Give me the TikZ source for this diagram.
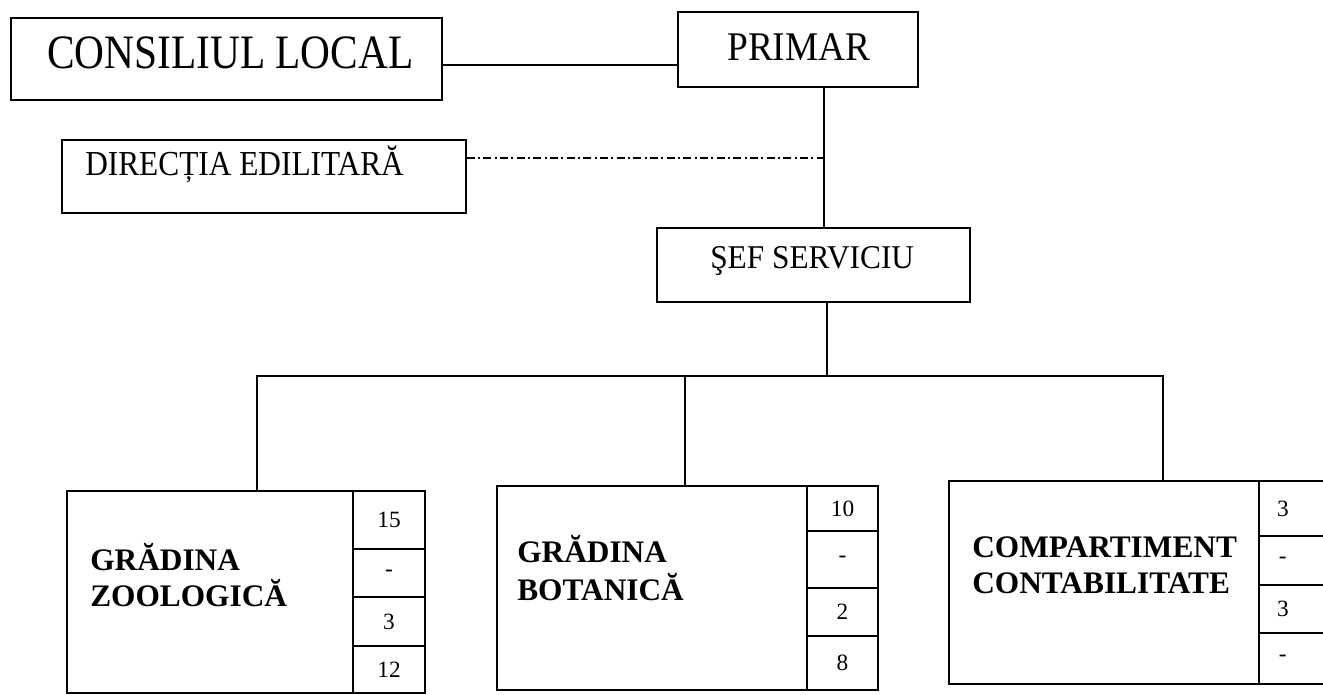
\documentclass[tikz,border=0pt]{standalone}
\usepackage{graphicx}
\usepackage{fontspec}
\setmainfont{Liberation Serif}
\newcommand{\tallr}[2]{\scalebox{1}[#1]{#2}}
\begin{document}
\begin{tikzpicture}[x=0.75pt,y=-0.75pt,
  box/.style={draw, line width=1.15pt, inner sep=0pt, rectangle},
  cell/.style={draw, line width=1.15pt, inner sep=0pt, rectangle, font=\fontsize{17.5}{20}\selectfont},
  conn/.style={line width=1.1pt},
  dashdot/.style={line width=1.1pt, dash pattern=on 6pt off 2.5pt on 1.5pt off 2.5pt},
  lbl/.style={inner sep=0pt, anchor=base west},
  blbl/.style={inner sep=0pt, anchor=base west, font=\fontsize{23.5}{27}\bfseries\selectfont}]
\useasboundingbox (0,0) rectangle (1323,694);
\fill[white] (0,0) rectangle (1323,694);
% top boxes
\node[box, minimum width=431*0.75pt, minimum height=82*0.75pt] (cl) at (226.5,59) {};
\node[lbl, font=\fontsize{31}{36}\selectfont] (cltxt) at (47,68) {\tallr{1.16}{CONSILIUL LOCAL}};
\node[box, minimum width=240*0.75pt, minimum height=75*0.75pt] (pr) at (798,49.5) {};
\node[lbl, font=\fontsize{28}{32}\selectfont] (prtxt) at (727,60) {\tallr{1.09}{PRIMAR}};
\node[box, minimum width=404*0.75pt, minimum height=73*0.75pt] (de) at (264,176.5) {};
\node[lbl, font=\fontsize{23.5}{27}\selectfont] (detxt) at (85,175) {\tallr{1.12}{DIRECȚIA EDILITARĂ}};
\node[box, minimum width=313*0.75pt, minimum height=74*0.75pt] (sef) at (813.5,265) {};
\node[lbl, font=\fontsize{23.5}{27}\selectfont] (seftxt) at (710,268) {\tallr{1.06}{ŞEF SERVICIU}};
% bottom boxes
\node[box, minimum width=286*0.75pt, minimum height=202*0.75pt] (zoo) at (210,592) {};
\node[blbl] (zoot1) at (90,570) {GRĂDINA};
\node[blbl] (zoot2) at (90,606) {ZOOLOGICĂ};
\node[cell, minimum width=72*0.75pt, minimum height=58*0.75pt] (z1) at (389,520) {15};
\node[cell, minimum width=72*0.75pt, minimum height=48*0.75pt] (z2) at (389,573) {-};
\node[cell, minimum width=72*0.75pt, minimum height=49*0.75pt] (z3) at (389,621.5) {3};
\node[cell, minimum width=72*0.75pt, minimum height=47*0.75pt] (z4) at (389,669.5) {12};
\node[box, minimum width=310*0.75pt, minimum height=204*0.75pt] (bot) at (652,588) {};
\node[blbl] (bott1) at (517,562) {GRĂDINA};
\node[blbl] (bott2) at (517,600) {BOTANICĂ};
\node[cell, minimum width=71*0.75pt, minimum height=45*0.75pt] (b1) at (842.5,508.5) {10};
\node[cell, minimum width=71*0.75pt, minimum height=57*0.75pt] (b2) at (842.5,559.5) {-};
\node[cell, minimum width=71*0.75pt, minimum height=48*0.75pt] (b3) at (842.5,612) {2};
\node[cell, minimum width=71*0.75pt, minimum height=54*0.75pt] (b4) at (842.5,663) {8};
\node[box, minimum width=310*0.75pt, minimum height=203*0.75pt] (comp) at (1104,582.5) {};
\node[blbl] (compt1) at (972,557) {COMPARTIMENT};
\node[blbl] (compt2) at (972,593) {CONTABILITATE};
\node[cell, minimum width=81*0.75pt, minimum height=55*0.75pt] (c1) at (1299.5,508.5) {\hspace*{-25pt}3};
\node[cell, minimum width=81*0.75pt, minimum height=49*0.75pt] (c2) at (1299.5,560.5) {\hspace*{-25pt}-};
\node[cell, minimum width=81*0.75pt, minimum height=48*0.75pt] (c3) at (1299.5,609) {\hspace*{-25pt}3};
\node[cell, minimum width=81*0.75pt, minimum height=51*0.75pt] (c4) at (1299.5,658.5) {\hspace*{-25pt}-};
% connectors
\coordinate (ya) at (0,65);
\coordinate (xa) at (824,0);
\coordinate (yd) at (0,158);
\coordinate (xs) at (827,0);
\coordinate (bus) at (827,376);
\coordinate (busl) at (257,376);
\coordinate (busm) at (685,376);
\coordinate (busr) at (1163,376);
\draw[conn] (cl.east |- ya) -- (pr.west |- ya);
\draw[conn] (pr.south -| xa) -- (sef.north -| xa);
\draw[dashdot] (de.east |- yd) -- (xa |- yd);
\draw[conn] (sef.south -| xs) -- (bus);
\draw[conn, line cap=rect] (busl) -- (busr);
\draw[conn] (busl) -- (busl |- zoo.north);
\draw[conn] (busm) -- (busm |- bot.north);
\draw[conn] (busr) -- (busr |- comp.north);
\end{tikzpicture}
\end{document}
